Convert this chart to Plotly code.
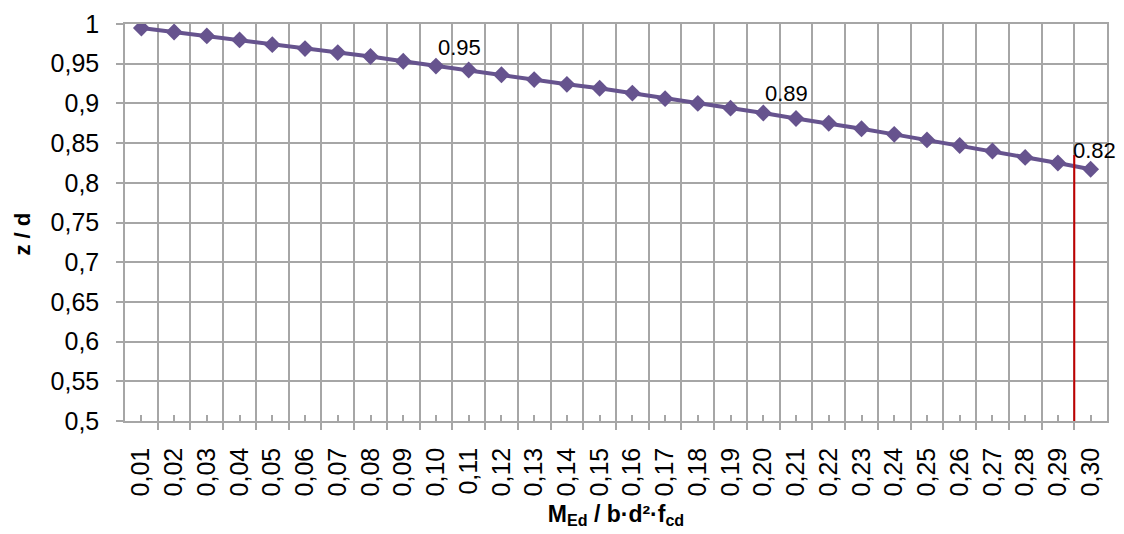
import plotly.graph_objects as go

# M_Ed / b*d^2*f_cd categories and z/d values
mu_labels = ["0,01", "0,02", "0,03", "0,04", "0,05", "0,06", "0,07", "0,08", "0,09", "0,10",
             "0,11", "0,12", "0,13", "0,14", "0,15", "0,16", "0,17", "0,18", "0,19", "0,20",
             "0,21", "0,22", "0,23", "0,24", "0,25", "0,26", "0,27", "0,28", "0,29", "0,30"]
z_d = [0.995, 0.990, 0.985, 0.980, 0.974, 0.969, 0.964, 0.959, 0.953, 0.947,
       0.942, 0.936, 0.930, 0.924, 0.919, 0.913, 0.906, 0.900, 0.894, 0.888,
       0.881, 0.875, 0.868, 0.861, 0.854, 0.847, 0.840, 0.832, 0.825, 0.817]

# labelled points (category position, text)
label_pos = [10, 20, 30]
label_txt = ["0.95", "0.89", "0.82"]

# red limit line
limit_x = [29.5, 29.5]
limit_y = [0.5, 0.835]

x = list(range(1, len(mu_labels) + 1))
grid = "#a6a6a6"
purple = "#66538e"

fig = go.Figure()
fig.add_trace(go.Scatter(x=x, y=z_d, mode="lines+markers",
                         line=dict(color=purple, width=4),
                         marker=dict(symbol="diamond", size=13, color=purple),
                         showlegend=False))
# the red line goes on an overlaid y axis that only draws the short tick marks
fig.add_trace(go.Scatter(x=limit_x, y=limit_y, mode="lines", yaxis="y2",
                         line=dict(color="#c00000", width=2), showlegend=False))

shifts = [0, 0, -20]
for p, t, s in zip(label_pos, label_txt, shifts):
    fig.add_annotation(x=p, y=z_d[p - 1], text=t, showarrow=False,
                       xanchor="left", yanchor="middle", xshift=s, yshift=19,
                       font=dict(size=22, color="black"))

# y axis title, placed a bit below the middle like the original
fig.add_annotation(x=0, y=0.5, xref="paper", yref="paper", text="<b>z / d</b>",
                   showarrow=False, textangle=-90, xanchor="center", yanchor="middle",
                   xshift=-103, yshift=-12, font=dict(size=22, color="black"))

# the page body has an 8px margin, so the margins are shifted to compensate
fig.update_layout(
    width=1124, height=534,
    margin=dict(l=117, r=25, t=16, b=121, autoexpand=False),
    plot_bgcolor="white", paper_bgcolor="white",
    separators=", ",
    font=dict(family="Liberation Sans, Arial, sans-serif", color="black"),
    xaxis=dict(range=[0.5, 30.5], tickvals=x, ticktext=mu_labels, tickangle=-90,
               ticks="inside", ticklen=6, tickcolor=grid, tickwidth=1.5,
               ticklabelstandoff=15,
               showgrid=False, zeroline=False,
               showline=True, linecolor=grid, linewidth=1.5, mirror=True,
               tickfont=dict(size=25),
               minor=dict(tickvals=[i + 0.5 for i in range(0, 31)], ticks="outside",
                          ticklen=7, tickcolor=grid, tickwidth=1.5,
                          showgrid=True, gridcolor=grid, gridwidth=1.5),
               title=dict(text="<b>M<sub>Ed</sub> / b·d²·f<sub>cd</sub></b>",
                          font=dict(size=23), standoff=10)),
    yaxis=dict(range=[0.5, 1.0], dtick=0.05, tick0=0.5,
               ticks="outside", ticklen=19, tickcolor="rgba(0,0,0,0)",
               showgrid=True, gridcolor=grid, gridwidth=1.5, zeroline=False,
               showline=True, linecolor=grid, linewidth=1.5, mirror=True,
               tickfont=dict(size=25)),
    yaxis2=dict(range=[0.5, 1.0], dtick=0.05, tick0=0.5, overlaying="y", side="left",
                anchor="x", ticks="outside", ticklen=8, tickcolor=grid, tickwidth=1.5,
                showticklabels=False, showgrid=False, zeroline=False, showline=False),
)

fig.write_html("out.html")
